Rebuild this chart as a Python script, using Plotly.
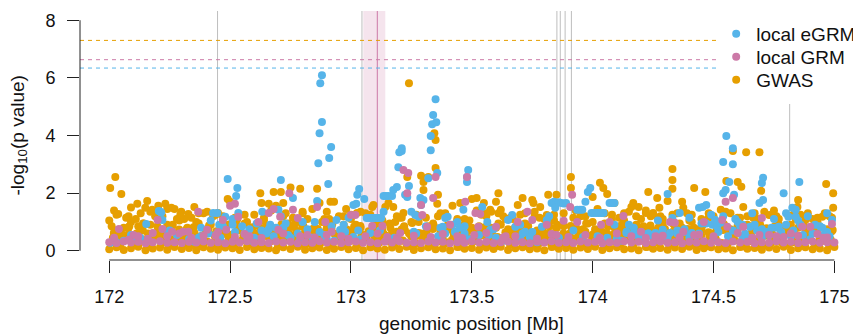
import plotly.graph_objects as go

# ---------------- data ----------------
base_x = [172.00,172.03,172.06,172.09,172.12,172.15,172.18,172.21,172.24,172.27,
          172.30,172.33,172.36,172.39,172.42,172.45,172.48,172.51,172.54,172.57,
          172.60,172.63,172.66,172.69,172.72,172.75,172.78,172.81,172.84,172.87,
          172.90,172.93,172.96,172.99,173.02,173.05,173.08,173.11,173.14,173.17,
          173.20,173.23,173.26,173.29,173.32,173.35,173.38,173.41,173.44,173.47,
          173.50,173.53,173.56,173.59,173.62,173.65,173.68,173.71,173.74,173.77,
          173.80,173.83,173.86,173.89,173.92,173.95,173.98,174.01,174.04,174.07,
          174.10,174.13,174.16,174.19,174.22,174.25,174.28,174.31,174.34,174.37,
          174.40,174.43,174.46,174.49,174.52,174.55,174.58,174.61,174.64,174.67,
          174.70,174.73,174.76,174.79,174.82,174.85,174.88,174.91,174.94,174.97,
          175.00]

gwas_base_y = [0.05,0.12,0.03,0.09,0.14,0.02,0.08,0.11,0.04,0.13,
               0.06,0.10,0.02,0.12,0.07,0.04,0.11,0.09,0.03,0.13,
               0.05,0.10,0.08,0.02,0.12,0.06,0.14,0.04,0.09,0.11,
               0.03,0.07,0.13,0.05,0.10,0.02,0.12,0.08,0.04,0.11,
               0.06,0.14,0.03,0.09,0.12,0.05,0.08,0.02,0.13,0.07,
               0.10,0.04,0.11,0.06,0.14,0.03,0.09,0.12,0.05,0.08,
               0.02,0.13,0.07,0.10,0.04,0.11,0.06,0.14,0.03,0.09,
               0.12,0.05,0.08,0.02,0.13,0.07,0.10,0.04,0.11,0.06,
               0.14,0.03,0.09,0.12,0.05,0.08,0.02,0.13,0.07,0.10,
               0.04,0.11,0.06,0.14,0.03,0.09,0.12,0.05,0.08,0.02,
               0.13]

grm_base_y = [0.30,0.27,0.32,0.29,0.31,0.26,0.30,0.33,0.28,0.30,
              0.27,0.31,0.29,0.32,0.28,0.30,0.26,0.31,0.29,0.33,
              0.28,0.30,0.27,0.32,0.29,0.31,0.26,0.30,0.28,0.33,
              0.29,0.31,0.27,0.30,0.32,0.28,0.30,0.26,0.31,0.29,
              0.33,0.28,0.30,0.27,0.32,0.29,0.31,0.26,0.30,0.28,
              0.33,0.29,0.31,0.27,0.30,0.32,0.28,0.30,0.26,0.31,
              0.29,0.33,0.28,0.30,0.27,0.32,0.29,0.31,0.26,0.30,
              0.28,0.33,0.29,0.31,0.27,0.30,0.32,0.28,0.30,0.26,
              0.31,0.29,0.33,0.28,0.30,0.27,0.32,0.29,0.31,0.26,
              0.30,0.28,0.33,0.29,0.31,0.27,0.30,0.32,0.28,0.30,
              0.29]

gwas_low_x = [172.015,172.045,172.075,172.105,172.135,172.165,172.195,172.225,172.255,172.285,
              172.315,172.345,172.375,172.405,172.435,172.465,172.495,172.525,172.555,172.585,
              172.615,172.645,172.675,172.705,172.735,172.765,172.795,172.825,172.855,172.885,
              172.915,172.945,172.975,173.005,173.035,173.065,173.095,173.125,173.155,173.185,
              173.215,173.245,173.275,173.305,173.335,173.365,173.395,173.425,173.455,173.485,
              173.515,173.545,173.575,173.605,173.635,173.665,173.695,173.725,173.755,173.785,
              173.815,173.845,173.875,173.905,173.935,173.965,173.995,174.025,174.055,174.085,
              174.115,174.145,174.175,174.205,174.235,174.265,174.295,174.325,174.355,174.385,
              174.415,174.445,174.475,174.505,174.535,174.565,174.595,174.625,174.655,174.685,
              174.715,174.745,174.775,174.805,174.835,174.865,174.895,174.925,174.955,174.985]
gwas_low_y = [0.45,0.20,0.55,0.30,0.40,0.18,0.50,0.35,0.25,0.60,
              0.38,0.22,0.48,0.32,0.55,0.20,0.42,0.28,0.52,0.36,
              0.24,0.58,0.40,0.18,0.46,0.30,0.54,0.26,0.44,0.34,
              0.20,0.50,0.38,0.56,0.28,0.42,0.22,0.48,0.32,0.60,
              0.36,0.18,0.52,0.40,0.26,0.46,0.30,0.58,0.24,0.44,
              0.34,0.54,0.20,0.48,0.38,0.28,0.56,0.42,0.22,0.50,
              0.32,0.46,0.26,0.60,0.36,0.20,0.52,0.40,0.30,0.44,
              0.24,0.58,0.34,0.48,0.18,0.42,0.54,0.28,0.38,0.50,
              0.22,0.46,0.32,0.56,0.26,0.40,0.60,0.30,0.44,0.20,
              0.52,0.36,0.48,0.24,0.58,0.34,0.42,0.28,0.54,0.38]

gwas_low2_x = [172.008,172.038,172.068,172.098,172.128,172.158,172.188,172.218,172.248,172.278,
               172.308,172.338,172.368,172.398,172.428,172.458,172.488,172.518,172.548,172.578,
               172.608,172.638,172.668,172.698,172.728,172.758,172.788,172.818,172.848,172.878,
               172.908,172.938,172.968,172.998,173.028,173.058,173.088,173.118,173.148,173.178,
               173.208,173.238,173.268,173.298,173.328,173.358,173.388,173.418,173.448,173.478,
               173.508,173.538,173.568,173.598,173.628,173.658,173.688,173.718,173.748,173.778,
               173.808,173.838,173.868,173.898,173.928,173.958,173.988,174.018,174.048,174.078,
               174.108,174.138,174.168,174.198,174.228,174.258,174.288,174.318,174.348,174.378,
               174.408,174.438,174.468,174.498,174.528,174.558,174.588,174.618,174.648,174.678,
               174.708,174.738,174.768,174.798,174.828,174.858,174.888,174.918,174.948,174.978]
gwas_low2_y = [0.30,0.16,0.40,0.22,0.35,0.14,0.44,0.26,0.18,0.38,
               0.24,0.42,0.15,0.32,0.20,0.45,0.28,0.17,0.36,0.23,
               0.40,0.19,0.33,0.14,0.43,0.27,0.21,0.37,0.16,0.30,
               0.25,0.44,0.18,0.34,0.22,0.39,0.15,0.29,0.41,0.20,
               0.35,0.17,0.26,0.45,0.19,0.31,0.24,0.38,0.14,0.33,
               0.42,0.21,0.28,0.16,0.36,0.23,0.44,0.18,0.30,0.25,
               0.39,0.15,0.34,0.22,0.43,0.27,0.17,0.37,0.20,0.32,
               0.26,0.41,0.19,0.35,0.14,0.29,0.45,0.23,0.31,0.18,
               0.38,0.24,0.16,0.42,0.28,0.21,0.36,0.15,0.33,0.40,
               0.19,0.27,0.44,0.22,0.30,0.17,0.39,0.25,0.34,0.20]

gwas_mid_x = [172.02,172.06,172.10,172.14,172.18,172.22,172.26,172.30,172.34,172.38,
              172.42,172.46,172.50,172.54,172.58,172.62,172.66,172.70,172.74,172.78,
              172.82,172.86,172.90,172.94,172.98,173.02,173.06,173.10,173.14,173.18,
              173.22,173.26,173.30,173.34,173.38,173.42,173.46,173.50,173.54,173.58,
              173.62,173.66,173.70,173.74,173.78,173.82,173.86,173.90,173.94,173.98,
              174.02,174.06,174.10,174.14,174.18,174.22,174.26,174.30,174.34,174.38,
              174.42,174.46,174.50,174.54,174.58,174.62,174.66,174.70,174.74,174.78,
              174.82,174.86,174.90,174.94,174.98]
gwas_mid_y = [0.55,0.80,0.45,0.95,0.60,0.35,0.85,0.50,0.70,0.40,
              0.90,0.65,0.30,0.75,0.55,0.85,0.45,0.60,0.95,0.40,
              0.70,0.50,0.80,0.35,0.65,0.90,0.45,0.75,0.55,0.30,
              0.85,0.60,0.40,0.95,0.50,0.70,0.35,0.80,0.60,0.45,
              0.90,0.55,0.75,0.40,0.65,0.85,0.50,0.30,0.70,0.95,
              0.45,0.60,0.80,0.40,0.90,0.55,0.70,0.35,0.85,0.50,
              0.65,0.95,0.45,0.75,0.60,0.40,0.85,0.55,0.70,0.30,
              0.90,0.50,0.80,0.45,0.65]

gwas_mid2_x = [172.01,172.05,172.09,172.13,172.17,172.21,172.25,172.29,172.33,172.37,
               172.41,172.45,172.49,172.53,172.57,172.61,172.65,172.69,172.73,172.77,
               172.81,172.85,172.89,172.93,172.97,173.01,173.05,173.09,173.13,173.17,
               173.21,173.25,173.29,173.33,173.37,173.41,173.45,173.49,173.53,173.57,
               173.61,173.65,173.69,173.73,173.77,173.81,173.85,173.89,173.93,173.97,
               174.01,174.05,174.09,174.13,174.17,174.21,174.25,174.29,174.33,174.37,
               174.41,174.45,174.49,174.53,174.57,174.61,174.65,174.69,174.73,174.77,
               174.81,174.85,174.89,174.93,174.97]
gwas_mid2_y = [0.85,0.60,1.00,0.70,0.90,0.55,0.80,1.05,0.65,0.95,
               0.75,0.50,0.90,0.70,1.00,0.60,0.85,0.75,0.55,0.95,
               0.65,0.80,1.10,0.60,0.90,0.70,0.55,0.85,0.95,0.65,
               0.75,1.00,0.60,0.80,0.70,0.90,0.55,1.05,0.85,0.65,
               0.95,0.75,0.60,0.90,0.70,1.00,0.80,0.55,0.85,0.65,
               0.75,0.95,0.60,1.05,0.70,0.85,0.55,0.90,0.65,0.80,
               1.00,0.70,0.60,0.95,0.75,0.85,0.55,1.10,0.65,0.90,
               0.70,0.80,0.60,1.00,0.75]

gwas_mid3_x = [172.023,172.053,172.083,172.113,172.143,172.173,172.203,172.233,172.263,172.293,
               172.323,172.353,172.383,172.413,172.443,172.473,172.503,172.533,172.563,172.593,
               172.623,172.653,172.683,172.713,172.743,172.773,172.803,172.833,172.863,172.893,
               172.923,172.953,172.983,173.013,173.043,173.073,173.103,173.133,173.163,173.193,
               173.223,173.253,173.283,173.313,173.343,173.373,173.403,173.433,173.463,173.493,
               173.523,173.553,173.583,173.613,173.643,173.673,173.703,173.733,173.763,173.793,
               173.823,173.853,173.883,173.913,173.943,173.973,174.003,174.033,174.063,174.093,
               174.123,174.153,174.183,174.213,174.243,174.273,174.303,174.333,174.363,174.393,
               174.423,174.453,174.483,174.513,174.543,174.573,174.603,174.633,174.663,174.693,
               174.723,174.753,174.783,174.813,174.843,174.873,174.903,174.933,174.963,174.993]
gwas_mid3_y = [0.70,0.50,0.85,0.60,0.95,0.55,0.75,0.65,0.90,0.48,
               0.80,0.62,0.52,0.88,0.68,0.58,0.93,0.72,0.50,0.82,
               0.64,0.78,0.55,0.92,0.60,0.70,0.86,0.52,0.76,0.66,
               0.94,0.58,0.74,0.84,0.50,0.68,0.90,0.62,0.80,0.56,
               0.72,0.96,0.54,0.66,0.86,0.60,0.78,0.50,0.88,0.70,
               0.58,0.82,0.64,0.92,0.52,0.76,0.68,0.85,0.56,0.74,
               0.62,0.90,0.50,0.80,0.70,0.95,0.58,0.66,0.84,0.54,
               0.78,0.60,0.88,0.72,0.52,0.82,0.64,0.94,0.56,0.76,
               0.68,0.86,0.50,0.74,0.92,0.60,0.80,0.55,0.70,0.90,
               0.62,0.84,0.58,0.76,0.52,0.88,0.66,0.80,0.60,0.72]

gwas_mid4_x = [172.019,172.049,172.079,172.109,172.139,172.169,172.199,172.229,172.259,172.289,
               172.319,172.349,172.379,172.409,172.439,172.469,172.499,172.529,172.559,172.589,
               172.619,172.649,172.679,172.709,172.739,172.769,172.799,172.829,172.859,172.889,
               172.919,172.949,172.979,173.009,173.039,173.069,173.099,173.129,173.159,173.189,
               173.219,173.249,173.279,173.309,173.339,173.369,173.399,173.429,173.459,173.489,
               173.519,173.549,173.579,173.609,173.639,173.669,173.699,173.729,173.759,173.789,
               173.819,173.849,173.879,173.909,173.939,173.969,173.999,174.029,174.059,174.089,
               174.119,174.149,174.179,174.209,174.239,174.269,174.299,174.329,174.359,174.389,
               174.419,174.449,174.479,174.509,174.539,174.569,174.599,174.629,174.659,174.689,
               174.719,174.749,174.779,174.809,174.839,174.869,174.899,174.929,174.959,174.989]
gwas_mid4_y = [0.62,0.42,0.78,0.50,0.70,0.45,0.85,0.58,0.40,0.74,
               0.52,0.82,0.46,0.66,0.40,0.76,0.56,0.88,0.44,0.68,
               0.50,0.80,0.60,0.42,0.72,0.54,0.84,0.48,0.64,0.40,
               0.78,0.52,0.70,0.44,0.86,0.58,0.46,0.74,0.40,0.66,
               0.82,0.50,0.62,0.44,0.76,0.56,0.88,0.48,0.68,0.42,
               0.72,0.54,0.80,0.46,0.64,0.40,0.84,0.58,0.50,0.70,
               0.44,0.78,0.60,0.86,0.48,0.66,0.42,0.74,0.52,0.82,
               0.56,0.40,0.70,0.62,0.88,0.46,0.76,0.50,0.68,0.44,
               0.80,0.54,0.64,0.42,0.72,0.58,0.84,0.48,0.66,0.40,
               0.78,0.52,0.70,0.60,0.46,0.86,0.56,0.74,0.44,0.68]

gwas_up_x = [172.00,172.04,172.08,172.12,172.16,172.20,172.24,172.28,172.32,172.36,
             172.40,172.44,172.48,172.52,172.56,172.60,172.64,172.68,172.72,172.76,
             172.80,172.84,172.88,172.92,172.96,173.00,173.04,173.08,173.12,173.16,
             173.20,173.24,173.28,173.32,173.36,173.40,173.44,173.48,173.52,173.56,
             173.60,173.64,173.68,173.72,173.76,173.80,173.84,173.88,173.92,173.96,
             174.00,174.04,174.08,174.12,174.16,174.20,174.24,174.28,174.32,174.36,
             174.40,174.44,174.48,174.52,174.56,174.60,174.64,174.68,174.72,174.76,
             174.80,174.84,174.88,174.92,174.96]
gwas_up_y = [1.05,0.70,1.20,0.85,0.60,1.30,0.90,1.10,0.75,1.00,
             0.65,1.25,0.80,1.15,0.95,0.60,1.05,0.70,1.20,0.85,
             1.35,0.75,1.00,0.90,0.65,1.10,0.80,1.25,0.70,0.95,
             1.15,0.60,1.00,0.85,1.20,0.75,1.05,0.90,0.65,1.30,
             0.80,1.10,0.70,0.95,1.20,0.60,1.05,0.85,1.15,0.75,
             1.00,0.65,1.25,0.90,0.70,1.10,0.80,1.20,0.60,0.95,
             1.05,0.75,1.30,0.85,0.70,1.15,0.90,1.00,0.65,1.20,
             0.80,1.10,0.75,0.95,1.25]

gwas_hi_x = [172.02,172.07,172.13,172.19,172.24,172.31,172.37,172.43,172.56,172.64,
             172.73,172.82,172.95,173.04,173.21,173.27,173.39,173.47,173.54,173.58,
             173.63,173.67,173.72,173.78,173.84,173.93,173.97,174.05,174.11,174.15,
             174.24,174.29,174.35,174.41,174.48,174.57,174.64,174.71,174.77,174.83,
             174.89,174.93,174.98]
gwas_hi_y = [1.40,1.15,1.30,1.20,1.45,1.10,1.30,1.20,1.25,1.15,
             1.30,1.10,1.20,1.35,1.15,1.25,1.30,1.10,1.25,1.35,
             1.20,1.10,1.30,1.15,1.25,1.40,1.20,1.30,1.15,1.35,
             1.20,1.10,1.30,1.25,1.15,1.30,1.20,1.35,1.10,1.25,
             1.30,1.15,1.20]

gwas_hi2_x = [172.03,172.09,172.11,172.17,172.22,172.27,172.34,172.39,172.47,172.53,
              172.60,172.67,172.76,172.80,172.91,172.97,173.06,173.13,173.19,173.31,
              173.37,173.44,173.52,173.56,173.61,173.66,173.70,173.76,173.80,173.88,
              173.95,174.02,174.08,174.13,174.18,174.22,174.27,174.33,174.39,174.45,
              174.50,174.55,174.61,174.67,174.75,174.81,174.86,174.91,174.96,174.99]
gwas_hi2_y = [1.25,1.50,1.10,1.35,1.20,1.45,1.15,1.30,1.20,1.10,
              1.25,1.40,1.15,1.30,1.10,1.20,1.30,1.05,1.20,1.15,
              1.30,1.10,1.40,1.20,1.30,1.15,1.25,1.35,1.10,1.30,
              1.20,1.45,1.10,1.30,1.20,1.40,1.15,1.25,1.30,1.10,
              1.20,1.35,1.15,1.30,1.40,1.20,1.25,1.10,1.30,1.15]

gwas_peak_x = [172.004,172.025,172.050,172.037,172.116,172.157,172.149,172.178,172.203,172.232,
               172.257,172.298,172.327,172.352,172.294,172.405,172.450,172.490,172.500,172.625,
               172.630,172.660,172.680,172.690,172.710,172.720,172.750,172.790,172.840,172.860,
               172.870,172.900,172.915,172.930,172.980,173.000,173.025,173.088,173.093,173.142,
               173.155,173.175,173.183,173.217,173.233,173.240,173.290,173.300,173.300,173.320,
               173.345,173.350,173.350,173.357,173.360,173.420,173.452,173.500,173.520,173.550,
               173.576,173.600,173.610,173.620,173.690,173.710,173.750,173.755,173.783,173.810,
               173.816,173.850,173.910,173.910,174.000,174.030,174.044,174.060,174.090,174.160,
               174.168,174.190,174.220,174.230,174.250,174.267,174.276,174.310,174.330,174.330,
               174.330,174.370,174.375,174.420,174.466,174.530,174.553,174.580,174.600,174.615,
               174.623,174.635,174.665,174.690,174.697,174.730,174.847,174.850,174.880,174.950,
               174.966,174.995,174.995]
gwas_peak_y = [2.18,2.56,1.97,1.28,1.63,1.73,1.49,1.42,1.56,1.63,
               1.49,1.35,1.28,1.52,1.24,1.35,1.31,1.80,1.70,2.00,
               1.66,1.63,2.04,1.56,2.04,1.66,2.20,2.15,1.45,2.15,
               1.66,1.35,1.70,1.70,1.45,1.25,1.31,1.52,1.59,1.52,
               1.66,1.52,1.00,1.31,2.56,5.81,2.60,2.39,2.11,2.56,
               4.08,3.84,2.87,1.63,1.94,1.56,1.66,1.80,1.83,1.66,
               1.42,1.70,2.00,1.42,1.59,1.83,1.76,1.66,1.52,1.24,
               1.94,1.94,2.56,2.18,1.87,2.36,2.18,1.97,1.66,1.52,
               1.66,1.52,1.31,2.04,1.31,1.83,1.49,1.73,2.84,2.46,
               2.15,1.70,1.49,2.18,2.04,1.42,2.42,3.46,2.39,2.22,
               1.52,3.42,1.14,3.42,2.08,1.24,1.52,1.76,1.07,1.18,
               2.32,2.00,1.49]

egrm_fill_x = [172.03,172.09,172.16,172.25,172.35,172.41,172.46,172.52,172.55,172.59,
               172.63,172.68,172.73,172.78,172.82,172.89,172.93,172.97,173.04,173.12,
               173.18,173.27,173.31,173.36,173.43,173.49,173.53,173.59,173.63,173.71,
               173.77,173.86,173.92,174.02,174.12,174.17,174.23,174.31,174.38,174.43,
               174.47,174.52,174.56,174.61,174.64,174.68,174.73,174.78,174.82,174.86,
               174.91,174.95,174.98]
egrm_fill_y = [0.30,0.55,0.35,0.70,0.32,0.60,0.45,0.65,0.85,0.35,
               0.70,0.50,0.95,0.60,0.75,0.55,0.35,0.90,0.40,0.70,
               0.45,0.60,0.85,0.50,0.65,0.40,0.55,0.75,0.35,0.60,
               0.30,0.45,0.70,0.50,0.35,0.80,0.60,0.45,0.75,0.55,
               0.95,0.65,0.50,0.85,0.45,0.70,0.55,0.65,0.50,0.90,
               0.60,0.80,0.50]

egrm_fill2_x = [172.38,172.42,172.44,172.47,172.51,172.56,172.61,172.66,172.71,172.75,
                172.80,172.87,172.92,172.99,173.03,173.39,173.44,173.47,173.57,173.70,
                173.75,173.82,174.06,174.15,174.27,174.35,174.40,174.45,174.49,174.54,
                174.59,174.62,174.66,174.70,174.75,174.80,174.85,174.89,174.94,174.97]
egrm_fill2_y = [0.80,1.05,0.55,0.85,1.10,0.60,0.95,0.75,1.20,0.45,
                1.00,0.65,0.85,1.15,0.70,0.60,1.00,0.85,0.55,0.90,
                0.65,1.20,0.45,0.90,1.05,0.70,1.15,0.95,1.25,1.20,
                1.10,0.90,1.30,0.75,1.10,1.30,1.05,1.20,0.85,1.30]

egrm_run_x = [174.14,174.17,174.20,174.23,174.26,174.29,174.32,174.35,174.38,174.41,174.44]
egrm_run_y = [0.62,0.60,0.64,0.60,0.62,0.58,0.62,0.60,0.65,0.62,0.60]

egrm_x = [172.004,172.060,172.100,172.128,172.153,172.205,172.211,172.215,172.220,172.244,
          172.280,172.330,172.370,172.380,172.430,172.447,172.455,172.480,172.490,172.530,
          172.525,172.534,172.510,172.570,172.580,172.600,172.633,172.650,172.666,172.690,
          172.700,172.710,172.720,172.740,172.760,172.790,172.840,172.850,172.860,172.865,
          172.870,172.873,172.880,172.880,172.900,172.906,172.910,172.918,172.940,172.955,
          172.976,173.010,173.010,173.022,173.026,173.034,173.055,173.065,173.075,173.085,
          173.095,173.105,173.115,173.125,173.135,173.080,173.135,173.145,173.155,173.170,
          173.175,173.190,173.196,173.200,173.210,173.210,173.224,173.233,173.240,173.250,
          173.260,173.266,173.280,173.287,173.290,173.300,173.320,173.330,173.330,173.336,
          173.340,173.350,173.353,173.357,173.370,173.380,173.390,173.400,173.420,173.450,
          173.450,173.465,173.470,173.480,173.480,173.485,173.543,173.564,173.576,173.600,
          173.650,173.667,173.680,173.700,173.720,173.740,173.790,173.810,173.830,173.840,
          173.850,173.860,173.870,173.880,173.890,173.845,173.936,173.947,173.957,173.960,
          173.970,173.980,173.990,173.995,174.005,174.015,174.025,174.035,174.045,174.070,
          174.080,174.090,174.090,174.100,174.140,174.180,174.200,174.250,174.290,174.310,
          174.330,174.360,174.400,174.440,174.455,174.470,174.495,174.500,174.507,174.515,
          174.530,174.540,174.540,174.550,174.553,174.565,174.580,174.580,174.580,174.585,
          174.600,174.620,174.630,174.650,174.670,174.690,174.700,174.700,174.705,174.705,
          174.720,174.740,174.760,174.770,174.790,174.800,174.810,174.826,174.830,174.840,
          174.840,174.855,174.870,174.900,174.920,174.955,174.970,174.990]
egrm_y = [0.28,0.35,0.40,0.45,0.93,1.38,1.35,1.33,1.07,0.62,
          0.55,0.40,0.45,0.50,1.31,1.31,0.90,1.18,2.49,2.18,
          1.90,1.31,0.90,0.50,0.75,0.45,1.35,0.60,0.90,0.80,
          1.42,2.46,0.80,0.55,1.83,0.38,0.45,1.00,1.73,3.04,
          4.08,5.81,6.09,4.47,0.40,2.32,3.22,3.60,1.07,0.72,
          0.66,1.59,0.48,1.63,1.94,2.14,1.80,1.14,1.14,1.14,
          1.14,1.14,1.14,1.14,1.35,0.62,1.90,1.90,1.90,1.90,
          2.11,2.21,2.90,3.42,3.46,3.56,1.94,1.87,2.25,1.35,
          0.66,1.24,1.18,1.83,1.59,1.76,2.52,3.98,3.49,4.39,
          4.71,5.26,4.46,2.70,0.80,0.83,1.14,1.18,0.90,0.80,
          0.45,1.42,0.60,2.39,2.56,2.80,1.52,1.00,0.73,0.45,
          1.07,1.24,0.83,0.40,0.66,0.48,0.83,1.07,1.66,1.70,
          1.66,1.68,1.66,1.64,1.66,1.49,1.42,1.42,1.42,0.48,
          1.70,2.04,2.18,1.31,1.31,1.31,1.31,1.31,1.31,1.66,
          1.66,1.66,0.90,0.42,0.66,0.55,0.40,0.45,0.73,1.97,
          1.14,1.31,0.45,1.49,1.52,1.59,0.90,0.40,1.07,0.83,
          0.97,2.00,3.08,2.11,3.98,2.39,3.00,3.56,0.70,1.94,
          1.00,0.48,0.60,0.83,0.90,1.66,2.35,0.45,2.53,1.76,
          0.65,0.80,0.80,0.83,2.00,0.90,1.18,1.49,0.70,1.42,
          1.18,2.39,0.55,0.40,0.90,0.55,0.65,1.07]

grm_row2_x = [172.02,172.10,172.16,172.24,172.29,172.34,172.39,172.45,172.52,172.56,
              172.63,172.72,172.79,172.85,172.90,172.99,173.06,173.11,173.19,173.26,
              173.33,173.38,173.46,173.51,173.56,173.63,173.68,173.77,173.83,173.90,
              173.97,174.03,174.10,174.16,174.22,174.29,174.36,174.44,174.50,174.60,
              174.66,174.73,174.79,174.85,174.93,174.97]
grm_row2_y = [0.45,0.55,0.42,0.50,0.60,0.45,0.52,0.65,0.48,0.58,
              0.44,0.60,0.50,0.46,0.55,0.42,0.50,0.60,0.45,0.52,
              0.48,0.58,0.44,0.55,0.62,0.46,0.50,0.42,0.58,0.48,
              0.55,0.45,0.60,0.50,0.44,0.52,0.47,0.56,0.50,0.62,
              0.45,0.55,0.48,0.52,0.58,0.46]

grm_x = [172.040,172.080,172.120,172.180,172.200,172.220,172.260,172.306,172.327,172.368,
         172.405,172.440,172.470,172.484,172.500,172.520,172.534,172.580,172.617,172.660,
         172.680,172.700,172.707,172.745,172.760,172.780,172.820,172.860,172.894,172.920,
         172.960,173.000,173.018,173.088,173.130,173.150,173.204,173.217,173.237,173.233,
         173.290,173.295,173.315,173.340,173.350,173.410,173.440,173.473,173.480,173.515,
         173.527,173.535,173.600,173.640,173.690,173.730,173.750,173.810,173.850,173.880,
         173.907,173.915,173.936,174.035,174.070,174.127,174.200,174.260,174.320,174.340,
         174.375,174.420,174.460,174.536,174.550,174.557,174.580,174.623,174.690,174.700,
         174.760,174.820,174.867,174.900,174.955,174.990]
grm_y = [0.76,0.38,0.50,0.62,1.07,0.76,0.66,0.66,0.66,1.35,
         0.73,0.52,1.07,0.73,1.56,1.63,1.18,0.50,1.00,1.31,
         1.45,0.73,1.18,2.00,1.42,1.14,0.55,1.52,1.00,0.66,
         0.50,1.24,1.24,0.86,0.86,0.48,0.62,2.80,2.70,2.00,
         1.59,1.24,0.83,1.83,2.56,0.90,0.50,1.70,2.56,1.31,
         0.83,1.28,0.83,0.50,1.00,1.35,1.07,0.90,0.55,1.04,
         1.52,1.94,1.00,0.90,1.00,1.21,0.66,0.50,1.00,0.97,
         0.66,0.55,1.00,1.07,1.70,0.83,1.83,0.83,0.55,1.14,
         0.50,0.60,0.83,0.83,0.45,0.93]

x_ticks = [172, 172.5, 173, 173.5, 174, 174.5, 175]
x_tick_labels = ["172", "172.5", "173", "173.5", "174", "174.5", "175"]
y_ticks = [0, 2, 4, 6, 8]
y_tick_labels = ["0", "2", "4", "6", "8"]

thresholds = {"gwas": 7.30, "grm": 6.63, "egrm": 6.34}
gray_lines = [172.448, 173.0455, 173.852, 173.866, 173.886, 173.912]
gray_line_short = 174.815
causal_window = (173.051, 173.142)
causal_pos = 173.109

# ---------------- styling ----------------
C_EGRM = "#56B4E9"
C_GRM = "#CC79A7"
C_GWAS = "#E69F00"
FONT = "Liberation Sans, Arial, Helvetica, sans-serif"
MS = 8

X_RANGE = [171.879, 175.077]
Y_RANGE = [-0.32, 8.32]
LEG_X0 = 174.518
LEG_Y0 = 5.09
LEG_X = 0.823
LEG_YS = [0.9076, 0.8153, 0.7229]

gwas_x = (base_x + gwas_low_x + gwas_low2_x + gwas_mid_x + gwas_mid2_x + gwas_mid3_x
          + gwas_mid4_x + gwas_up_x + gwas_hi_x + gwas_hi2_x + gwas_peak_x)
gwas_y = (gwas_base_y + gwas_low_y + gwas_low2_y + gwas_mid_y + gwas_mid2_y + gwas_mid3_y
          + gwas_mid4_y + gwas_up_y + gwas_hi_y + gwas_hi2_y + gwas_peak_y)
egrm_all_x = egrm_fill_x + egrm_fill2_x + egrm_run_x + egrm_x
egrm_all_y = egrm_fill_y + egrm_fill2_y + egrm_run_y + egrm_y
grm_all_x = base_x + grm_row2_x + grm_x
grm_all_y = grm_base_y + grm_row2_y + grm_y

fig = go.Figure()
fig.add_trace(go.Scatter(x=gwas_x, y=gwas_y, mode="markers", name="GWAS",
                         marker=dict(color=C_GWAS, size=MS, line=dict(width=0)),
                         legend="legend3"))
fig.add_trace(go.Scatter(x=egrm_all_x, y=egrm_all_y, mode="markers", name="local eGRM",
                         marker=dict(color=C_EGRM, size=MS, line=dict(width=0)),
                         legend="legend"))
fig.add_trace(go.Scatter(x=grm_all_x, y=grm_all_y, mode="markers", name="local GRM",
                         marker=dict(color=C_GRM, size=MS, line=dict(width=0)),
                         legend="legend2"))

shapes = []
shapes.append(dict(type="rect", xref="x", yref="paper", x0=causal_window[0], x1=causal_window[1],
                   y0=0, y1=1, fillcolor="rgba(204,121,167,0.2)", line=dict(width=0), layer="below"))
shapes.append(dict(type="line", xref="x", yref="paper", x0=causal_pos, x1=causal_pos, y0=0, y1=1,
                   line=dict(color="#CC79A7", width=1), layer="below"))
for gx in gray_lines:
    shapes.append(dict(type="line", xref="x", yref="paper", x0=gx, x1=gx, y0=0, y1=1,
                       line=dict(color="#BEBEBE", width=1), layer="below"))
shapes.append(dict(type="line", xref="x", yref="paper", x0=gray_line_short, x1=gray_line_short,
                   y0=0, y1=1, line=dict(color="#BEBEBE", width=1), layer="below"))
for key, col in (("gwas", C_GWAS), ("grm", C_GRM), ("egrm", C_EGRM)):
    shapes.append(dict(type="line", xref="x", yref="y", x0=X_RANGE[0], x1=X_RANGE[1],
                       y0=thresholds[key], y1=thresholds[key],
                       line=dict(color=col, width=1, dash="4px,4px"), layer="below"))
# legend box (white background, like R's legend)
shapes.append(dict(type="rect", xref="x", yref="y", x0=LEG_X0, x1=X_RANGE[1] + 0.1,
                   y0=LEG_Y0, y1=Y_RANGE[1] + 0.1, fillcolor="white", line=dict(width=0), layer="below"))
# R-style axis lines spanning only the tick range
shapes.append(dict(type="line", xref="x", yref="paper", x0=x_ticks[0], x1=x_ticks[-1], y0=0, y1=0,
                   line=dict(color="#222222", width=1)))
shapes.append(dict(type="line", xref="paper", yref="y", x0=0, x1=0, y0=y_ticks[0], y1=y_ticks[-1],
                   line=dict(color="#222222", width=1)))


def leg(yv):
    return dict(x=LEG_X, y=yv, xanchor="left", yanchor="middle",
                bgcolor="rgba(0,0,0,0)", font=dict(size=19, family=FONT, color="#111111"),
                itemclick=False)


fig.update_layout(
    width=853, height=335,
    margin=dict(l=80, r=0, t=11, b=75, autoexpand=False),
    paper_bgcolor="white", plot_bgcolor="white",
    font=dict(family=FONT, size=18, color="#111111"),
    shapes=shapes,
    showlegend=True,
    legend=leg(LEG_YS[0]),
    legend2=leg(LEG_YS[1]),
    legend3=leg(LEG_YS[2]),
    xaxis=dict(range=X_RANGE, showgrid=False, zeroline=False, showline=False,
               automargin=False,
               tickmode="array", tickvals=x_ticks, ticktext=x_tick_labels,
               ticks="outside", ticklen=12, tickwidth=1, tickcolor="#222222",
               tickfont=dict(size=18), ticklabelstandoff=8),
    yaxis=dict(range=Y_RANGE, showgrid=False, zeroline=False, showline=False,
               automargin=False,
               tickmode="array", tickvals=y_ticks, ticktext=y_tick_labels,
               ticks="outside", ticklen=12, tickwidth=1, tickcolor="#222222",
               tickfont=dict(size=18), ticklabelstandoff=8),
    annotations=[
        dict(text="genomic position [Mb]", xref="x", yref="paper", x=173.5, y=-0.257,
             xanchor="center", yanchor="middle", showarrow=False, font=dict(size=19)),
        dict(text="-log<sub>10</sub>(p value)", xref="paper", yref="y", x=-0.0802, y=4,
             xanchor="center", yanchor="middle", textangle=-90, showarrow=False,
             font=dict(size=19)),
    ],
)

fig.write_html("out.html")
